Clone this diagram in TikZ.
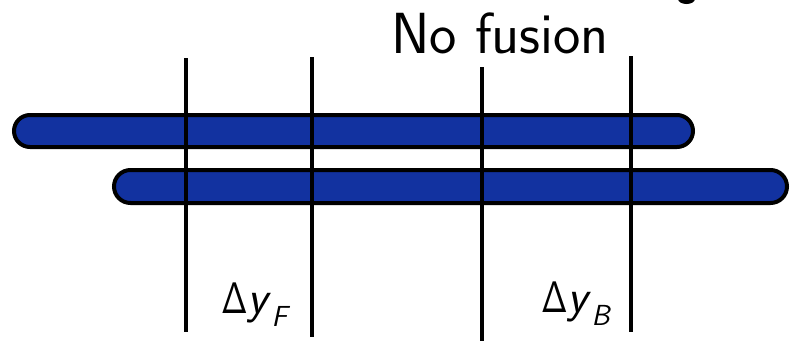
\documentclass[tikz,border=0pt]{standalone}
\usepackage{fontspec}
\setmainfont{Latin Modern Sans}
\usepackage{graphicx}
\definecolor{barblue}{HTML}{1232A0}
\tikzset{
  bar/.style={draw=black, fill=barblue, line width=4pt},
  cut/.style={draw=black, line width=3.5pt},
  lbl/.style={inner sep=0pt, anchor=base west, font=\fontsize{47}{50}\selectfont},
  title/.style={inner sep=0pt, anchor=base west, font=\fontsize{58}{64}\selectfont}
}
\newcommand{\gapdelta}{\scalebox{0.72}[0.94]{Δ}}
\newcommand{\sublbl}[1]{\raisebox{-13pt}{\fontsize{29}{29}\selectfont\itshape #1}}
\begin{document}
\begin{tikzpicture}[x=1pt, y=-1pt]
  \useasboundingbox (0,0) rectangle (790,341);

  % the two long bars
  \draw[bar, rounded corners=16pt] (14,115) rectangle (693,147);
  \draw[bar, rounded corners=16.5pt] (114,170) rectangle (787,203);

  % vertical cut lines
  \coordinate (c1t) at (186,58);  \coordinate (c1b) at (186,332);
  \coordinate (c2t) at (312,57);  \coordinate (c2b) at (312,337);
  \coordinate (c3t) at (482,67);  \coordinate (c3b) at (482,341);
  \coordinate (c4t) at (631,56);  \coordinate (c4b) at (631,332);
  \draw[cut] (c1t) -- (c1b);
  \draw[cut] (c2t) -- (c2b);
  \draw[cut] (c3t) -- (c3b);
  \draw[cut] (c4t) -- (c4b);

  % heading
  \node[title] (head) at (391,53) {No fusion};

  % rapidity gap labels
  \node[lbl] (dyF) at (221,313) {\gapdelta\textit{y}\sublbl{F}};
  \node[lbl] (dyB) at (541,312) {\gapdelta\textit{y}\sublbl{B}};

  % fragment of a glyph at the top edge
  \begin{scope}
    \clip (0,0) rectangle (790,341);
    \fill[black] (686.5,-1) ellipse (8.5pt and 5pt);
  \end{scope}
\end{tikzpicture}
\end{document}
